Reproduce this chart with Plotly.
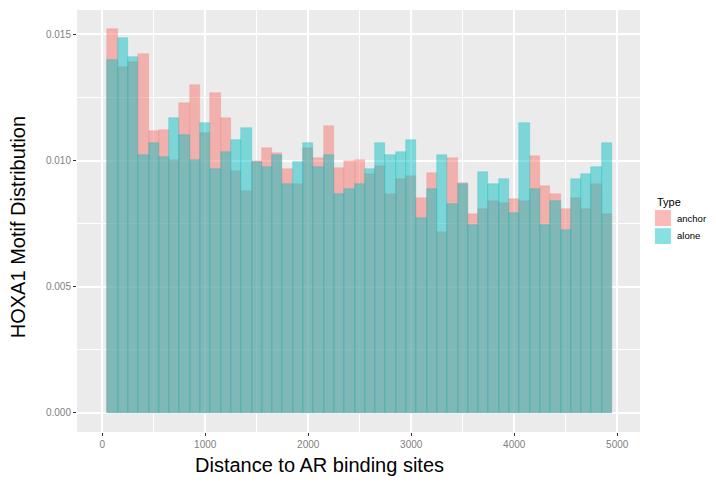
import plotly.graph_objects as go

# Bin centres (distance, bp) and bin width
bin_centers = list(range(100, 5000, 100))
bin_width = 100

anchor = [0.01521, 0.01370, 0.01390, 0.01422, 0.01116, 0.01120, 0.01001, 0.01227,
          0.01299, 0.01108, 0.01267, 0.01168, 0.00958, 0.00878, 0.00997, 0.01049,
          0.01029, 0.00965, 0.00906, 0.01049, 0.01009, 0.01136, 0.00969, 0.00997,
          0.01001, 0.00946, 0.00977, 0.00866, 0.00926, 0.00938, 0.00850, 0.00950,
          0.00715, 0.01009, 0.00910, 0.00787, 0.00807, 0.00839, 0.00831, 0.00847,
          0.00839, 0.01017, 0.00898, 0.00866, 0.00807, 0.00850, 0.00807, 0.00906,
          0.00787]

alone = [0.01398, 0.01485, 0.01410, 0.01021, 0.01069, 0.01013, 0.01168, 0.01100,
         0.01001, 0.01148, 0.00965, 0.01033, 0.01081, 0.01128, 0.00993, 0.00973,
         0.01021, 0.00906, 0.00993, 0.01069, 0.00973, 0.01021, 0.00866, 0.00886,
         0.00906, 0.00965, 0.01069, 0.01021, 0.01033, 0.01081, 0.00771, 0.00886,
         0.01021, 0.00826, 0.00906, 0.00743, 0.00954, 0.00906, 0.00926, 0.00791,
         0.01148, 0.00886, 0.00743, 0.00839, 0.00723, 0.00926, 0.00946, 0.00973,
         0.01069]

series_names = ["anchor", "alone"]
y_ticks = [0.000, 0.005, 0.010, 0.015]
y_ticklabels = ["0.000", "0.005", "0.010", "0.015"]
x_ticks = [0, 1000, 2000, 3000, 4000, 5000]

FONT = "Liberation Sans, Arial, Helvetica, sans-serif"
FILL = {"anchor": "rgba(248,118,109,0.5)", "alone": "rgba(0,191,196,0.47)"}
EDGE = {"anchor": "rgba(248,118,109,0.35)", "alone": "rgba(0,191,196,0.45)"}

fig = go.Figure()
for name, vals in zip(series_names, [anchor, alone]):
    fig.add_trace(go.Bar(
        x=bin_centers, y=vals, width=bin_width, name=name, showlegend=False,
        marker=dict(color=FILL[name], line=dict(color=EDGE[name], width=0.6)),
    ))

# Manual legend (ggplot-style, right of panel)
LX0, LX1, TX = 1.0265, 1.0549, 1.062
legend_shapes = []
legend_ann = [dict(text="Type", xref="paper", yref="paper", x=LX0, y=0.545,
                   xanchor="left", yanchor="middle", showarrow=False,
                   font=dict(size=11, color="black", family=FONT))]
key_rows = [(0.526, 0.488, 0.507), (0.483, 0.4455, 0.4645)]
for name, (ytop, ybot, ytxt) in zip(series_names, key_rows):
    legend_shapes.append(dict(type="rect", xref="paper", yref="paper",
                              x0=LX0, x1=LX1, y0=ybot, y1=ytop,
                              fillcolor=FILL[name], line=dict(width=0)))
    legend_ann.append(dict(text=name, xref="paper", yref="paper", x=TX, y=ytxt,
                           xanchor="left", yanchor="middle", showarrow=False,
                           font=dict(size=9.5, color="black", family=FONT)))

fig.update_layout(
    width=700, height=470,
    barmode="overlay", bargap=0,
    paper_bgcolor="white", plot_bgcolor="#EBEBEB",
    margin=dict(l=69, r=68, t=2, b=46, autoexpand=False),
    font=dict(family=FONT, color="#4D4D4D"),
    showlegend=False,
    xaxis=dict(
        range=[-245, 5221], tickvals=x_ticks,
        tickfont=dict(size=10, color="#7F7F7F"),
        ticks="outside", ticklen=3, tickcolor="#333333", tickwidth=1,
        showgrid=True, gridcolor="white", gridwidth=1.6,
        minor=dict(dtick=500, tick0=0, showgrid=True, gridcolor="white", gridwidth=0.7, ticks=""),
        zeroline=False, showline=False,
    ),
    yaxis=dict(
        range=[-0.00076, 0.01597], tickvals=y_ticks, ticktext=y_ticklabels,
        tickfont=dict(size=10, color="#7F7F7F"),
        ticks="outside", ticklen=3, tickcolor="#333333", tickwidth=1,
        showgrid=True, gridcolor="white", gridwidth=1.6,
        minor=dict(dtick=0.0025, tick0=0, showgrid=True, gridcolor="white", gridwidth=0.7, ticks=""),
        zeroline=False, showline=False,
    ),
    shapes=legend_shapes,
    annotations=[
        dict(text="Distance to AR binding sites", xref="paper", yref="paper",
             x=0.43, y=-0.078, xanchor="center", yanchor="middle", showarrow=False,
             font=dict(size=20, color="black", family=FONT)),
        dict(text="HOXA1 Motif Distribution", xref="paper", yref="paper",
             x=-0.105, y=0.485, xanchor="center", yanchor="middle", showarrow=False,
             textangle=-90, font=dict(size=20, color="black", family=FONT)),
    ] + legend_ann,
)

fig.write_html("out.html")
